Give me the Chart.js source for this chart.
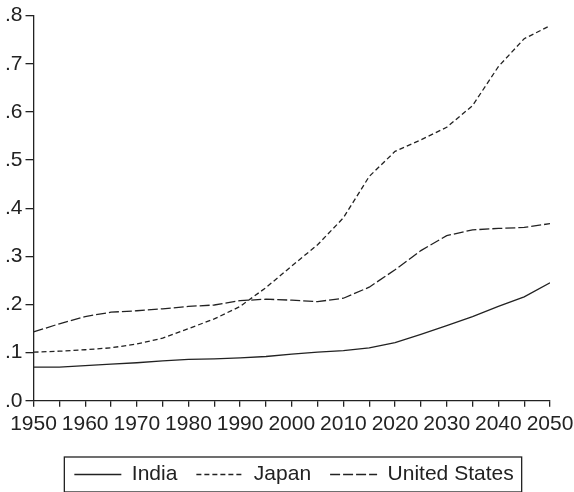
<!DOCTYPE html>
<html>

<head>
  <title>Ratio chart 1950-2050</title>
  <script src="https://cdn.jsdelivr.net/npm/chart.js"></script>
  <style>
    body { margin: 0; background: #fff; }
  </style>
</head>

<body>

  <canvas id="myChart" width="574" height="492"></canvas>

  <script>
    // 5-year steps
    const years = [1950, 1955, 1960, 1965, 1970, 1975, 1980, 1985, 1990, 1995, 2000,
      2005, 2010, 2015, 2020, 2025, 2030, 2035, 2040, 2045, 2050];
    const india = [0.070, 0.070, 0.073, 0.076, 0.079, 0.083, 0.086, 0.087, 0.089, 0.092, 0.097,
      0.101, 0.104, 0.110, 0.121, 0.138, 0.156, 0.175, 0.196, 0.216, 0.245];
    const japan = [0.101, 0.103, 0.106, 0.110, 0.118, 0.130, 0.150, 0.170, 0.196, 0.235, 0.280,
      0.324, 0.380, 0.466, 0.518, 0.542, 0.568, 0.613, 0.694, 0.752, 0.779];
    const unitedStates = [0.143, 0.160, 0.175, 0.184, 0.187, 0.191, 0.196, 0.199, 0.208, 0.211, 0.209,
      0.206, 0.213, 0.236, 0.272, 0.312, 0.343, 0.355, 0.358, 0.360, 0.368];
    const seriesNames = ["India", "Japan", "United States"];

    const ink = '#222';
    const sampleW = 47;
    Chart.defaults.font.family = "'Liberation Sans', Arial, sans-serif";
    Chart.defaults.font.size = 21;
    Chart.defaults.color = ink;

    const pts = (vals) => years.map((yr, i) => ({ x: yr, y: vals[i] }));

    function lineSet(label, vals, dash) {
      return {
        label: label,
        data: pts(vals),
        borderColor: ink,
        backgroundColor: ink,
        borderWidth: 1.3,
        borderDash: dash,
        fill: false,
        tension: 0,
        pointRadius: 0,
      };
    }

    // legend samples with the dataset dashes + box round the legend
    const legendFrame = {
      id: 'legendFrame',
      afterLayout(chart) {
        // nudge legend a bit right/down like the original
        chart.legend.left += 6;
        chart.legend.right += 6;
        chart.legend.top += 3;
        chart.legend.bottom += 3;
      },
      afterDraw(chart) {
        const hb = chart.legend.legendHitBoxes;
        if (!hb || !hb.length) return;
        const ctx = chart.ctx;
        ctx.save();
        ctx.strokeStyle = ink;
        ctx.lineWidth = 1.3;
        hb.forEach((b, i) => {
          const ds = chart.data.datasets[i];
          const cy = b.top + b.height / 2;
          ctx.setLineDash(ds.borderDash || []);
          ctx.beginPath();
          ctx.moveTo(b.left, cy);
          ctx.lineTo(b.left + sampleW, cy);
          ctx.stroke();
        });
        const first = hb[0], last = hb[hb.length - 1];
        const cy = first.top + first.height / 2;
        ctx.setLineDash([]);
        ctx.strokeRect(first.left - 10, cy - 17.5, last.left + last.width - first.left + 18, 35);
        ctx.restore();
      }
    };

    const config = {
      type: 'line',
      data: {
        datasets: [
          lineSet(seriesNames[0], india, []),
          lineSet(seriesNames[1], japan, [5, 3]),
          lineSet(seriesNames[2], unitedStates, [10, 3]),
        ]
      },
      options: {
        responsive: false,
        animation: false,
        layout: { padding: { top: 2, left: 2, right: 0, bottom: 0 } },
        scales: {
          x: {
            type: 'linear',
            min: 1950,
            max: 2050,
            border: { display: true, color: ink, width: 1.3 },
            grid: { drawOnChartArea: false, drawTicks: true, tickLength: 6, color: ink, lineWidth: 1.3 },
            ticks: {
              stepSize: 5,
              autoSkip: false,
              maxRotation: 0,
              padding: 5,
              callback: (v) => (v % 10 === 0 ? String(v) : ''),
            },
            afterFit: (s) => { s.paddingRight = 24; },
          },
          y: {
            min: 0,
            max: 0.8,
            border: { display: true, color: ink, width: 1.3 },
            grid: { drawOnChartArea: false, drawTicks: true, tickLength: 8, color: ink, lineWidth: 1.3 },
            ticks: {
              stepSize: 0.1,
              padding: 3,
              callback: (v) => v.toFixed(1).replace(/^0/, ''),
            },
          },
        },
        plugins: {
          tooltip: { enabled: false },
          legend: {
            display: true,
            position: 'bottom',
            labels: {
              usePointStyle: true,
              pointStyle: 'line',
              pointStyleWidth: sampleW,
              boxHeight: 20,
              padding: 19,
              font: { size: 21 },
              color: ink,
              generateLabels: (chart) => chart.data.datasets.map((ds, i) => ({
                text: ds.label,
                datasetIndex: i,
                pointStyle: 'line',
                strokeStyle: 'rgba(0,0,0,0)',
                fillStyle: 'rgba(0,0,0,0)',
                lineWidth: 0,
                fontColor: ink,
              })),
            },
          },
        }
      },
      plugins: [legendFrame]
    };

    new Chart(document.getElementById('myChart'), config);
  </script>
</body>

</html>
